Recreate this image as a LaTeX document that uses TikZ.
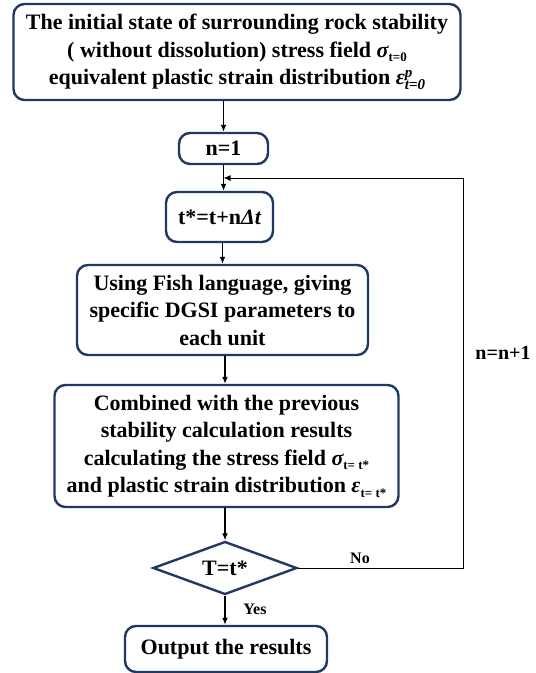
\documentclass[tikz,border=0pt]{standalone}
\usepackage{fontspec}
\setmainfont{Liberation Serif}
\usetikzlibrary{arrows.meta,shapes.geometric}

% subscripts and sub/superscript pairs for the field symbols
\newcommand{\lowsub}[1]{\raisebox{-0.45ex}{\fontsize{13}{13}\selectfont #1}}
\newcommand{\subsup}[2]{\rlap{\raisebox{0.75ex}{\fontsize{15}{15}\selectfont\itshape #2}}\raisebox{-0.5ex}{\fontsize{15}{15}\selectfont\itshape #1}}
\newcommand{\gsym}[1]{{\itshape #1}}

\definecolor{boxblue}{HTML}{1F3864}

\begin{document}
\begin{tikzpicture}[x=1pt,y=-1pt,
  every node/.style={font=\bfseries\fontsize{22}{27.5}\selectfont, text=black},
  procbox/.style={draw=boxblue, line width=2.4pt, rounded corners=11pt,
    align=center, inner sep=0pt, fill=white},
  decbox/.style={draw=boxblue, line width=2.4pt, diamond, aspect=2.7,
    inner sep=0pt, fill=white},
  arr/.style={line width=1.8pt, -{Latex[length=7pt,width=6pt]}},
  fbline/.style={line width=1pt},
  fbarr/.style={line width=1pt, -{Latex[length=7pt,width=6pt]}},
  tag/.style={font=\bfseries\fontsize{16}{16}\selectfont}
]
\useasboundingbox (0,0) rectangle (536,673);

\node[procbox, minimum width=447pt, minimum height=96pt] (init) at (237,52)
  {The initial state of surrounding rock stability\\
   ( without dissolution) stress field \gsym{σ}\lowsub{t=0}\\
   equivalent plastic strain distribution \gsym{ε}\subsup{t=0}{p}\hspace{6pt}};

\node[procbox, minimum width=89pt, minimum height=31pt] (n1) at (223.5,148.5) {n=1};

\node[procbox, minimum width=107pt, minimum height=50pt] (tstar) at (219.5,217)
  {t*=t+n\gsym{Δt}};

\node[procbox, minimum width=291pt, minimum height=90pt] (fish) at (222.5,310)
  {Using Fish language, giving\\ specific DGSI parameters to\\ each unit};

\node[procbox, minimum width=344pt, minimum height=122pt] (comb) at (226.5,446)
  {Combined with the previous\\ stability calculation results\\
   calculating the stress field \gsym{σ}\lowsub{t= t*}\\
   and plastic strain distribution \gsym{ε}\lowsub{t= t*}};

\node[decbox, minimum width=144pt, minimum height=53pt] (check) at (225,568) {T=t*};

\node[procbox, minimum width=202pt, minimum height=46pt] (out) at (226,649)
  {Output the results};

% main downward flow
\draw[arr] (init.south -| n1) -- (n1.south |- n1.north);
\draw[arr] (n1.south) -- (n1.south |- tstar.north);
\draw[arr] (tstar.south -| fish) -- (fish.north);
\draw[arr] (fish.south -| 225,0) -- (comb.north -| 225,0);
\draw[arr] (comb.south -| check) -- (check.north);
\draw[arr] (check.south) -- (out.north -| check);

% loop back: n = n + 1
\coordinate (join) at (223.5,178);
\coordinate (rail) at (463,568);
\draw[fbline] (check.east) -- (rail) -- (rail |- join);
\draw[fbarr] (rail |- join) -- (join);

\node[tag] (no) at (360,558) {No};
\node[tag] (yes) at (255,609) {Yes};
\node[font=\bfseries\fontsize{20}{20}\selectfont] (inc) at (503,353) {n=n+1};
\end{tikzpicture}
\end{document}
